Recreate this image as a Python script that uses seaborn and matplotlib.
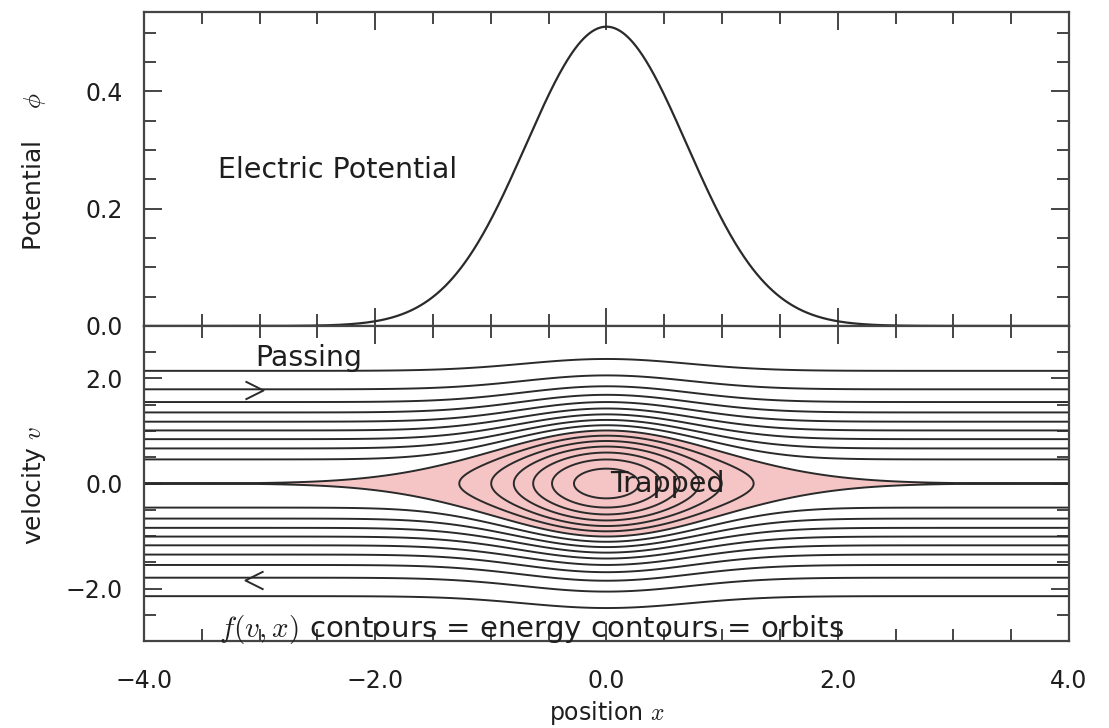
import numpy as np
import pandas as pd
import matplotlib
matplotlib.use("Agg")
import matplotlib.pyplot as plt
import seaborn as sns
from matplotlib.ticker import MultipleLocator, FuncFormatter

# ---------------- data ----------------
phi_peak = 0.51          # peak of the electric potential at x = 0
phi_sigma = 0.695        # gaussian width of the potential
f_levels_passing = [0.1, 0.2, 0.3, 0.4, 0.5, 0.6, 0.7, 0.8, 0.9]
f_level_separatrix = [1.0]
f_levels_trapped = [1.1, 1.2, 1.3, 1.4, 1.5, 1.6]
x_limits = [-4.0, 4.0]
phi_limits = [0.0, 0.535]
v_limits = [-3.0, 3.0]
x_major_ticks = [-4.0, -2.0, 0.0, 2.0, 4.0]
phi_major_ticks = [0.0, 0.2, 0.4]
v_major_ticks = [-2.0, 0.0, 2.0]
arrow_x = [-3.05, -3.05]
arrow_v = [1.79, -1.83]
arrow_dir = [">", "<"]

# ---------------- style ----------------
sns.set_theme(style="ticks")
plt.rcParams["font.family"] = ["DejaVu Sans"]
plt.rcParams["mathtext.fontset"] = "cm"

INK = "#2a2a2a"
SPINE = "#444444"
TXT = "#1e1e1e"
PINK = "#f5c4c4"

fig = plt.figure(figsize=(11.09, 7.28), dpi=100)
ax1 = fig.add_axes([0.1298, 0.5522, 0.8341, 0.4313])
ax2 = fig.add_axes([0.1298, 0.1195, 0.8341, 0.4327])

# potential curve
xs = np.linspace(x_limits[0], x_limits[1], 1601)
phi = phi_peak * np.exp(-xs**2 / (2 * phi_sigma**2))
df = pd.DataFrame({"x": xs, "phi": phi})
sns.lineplot(data=df, x="x", y="phi", ax=ax1, color=INK, lw=1.6, estimator=None)

# distribution function f(v,x) = exp(-(v^2/2 - phi(x)))
vs = np.linspace(v_limits[0], v_limits[1], 1201)
X, V = np.meshgrid(xs, vs)
PHI = phi_peak * np.exp(-X**2 / (2 * phi_sigma**2))
F = np.exp(-(V**2 / 2.0 - PHI))
ax2.contourf(X, V, F, levels=[f_level_separatrix[0], 100.0], colors=[PINK])
all_levels = f_levels_passing + f_level_separatrix + f_levels_trapped
ax2.contour(X, V, F, levels=all_levels, colors=INK, linewidths=1.4)

# direction arrows (open chevrons)
chev = {">": [(-1, 1), (1, 0), (-1, -1)], "<": [(1, 1), (-1, 0), (1, -1)]}
for ax_, av_, d_ in zip(arrow_x, arrow_v, arrow_dir):
    ax2.plot([ax_], [av_], marker=chev[d_], markersize=13, markerfacecolor="none",
             markeredgecolor=INK, markeredgewidth=1.4, linestyle="none")

# ---------------- axes formatting ----------------
fmt = FuncFormatter(lambda v, p: f"{v:.1f}".replace("-", "\u2212"))
for ax in (ax1, ax2):
    ax.set_xlim(*x_limits)
    ax.xaxis.set_major_locator(MultipleLocator(2.0))
    ax.xaxis.set_minor_locator(MultipleLocator(0.5))
    ax.xaxis.set_major_formatter(fmt)
    ax.yaxis.set_major_formatter(fmt)
    ax.tick_params(which="both", direction="in", top=True, right=True,
                   width=1.4, color=SPINE, labelcolor=TXT, labelsize=17)
    ax.tick_params(which="major", length=13)
    ax.tick_params(which="minor", length=8.5)
    ax.tick_params(axis="x", pad=20)
    ax.tick_params(axis="y", pad=15)
    for s in ax.spines.values():
        s.set_linewidth(1.6)
        s.set_color(SPINE)

ax1.set_ylim(*phi_limits)
ax1.set_yticks(phi_major_ticks)
ax1.yaxis.set_minor_locator(MultipleLocator(0.05))
ax1.tick_params(labelbottom=False)
ax1.set_xlabel("")
ax1.set_ylabel(r"Potential    $\phi$", fontsize=18, color=TXT)
ax1.yaxis.set_label_coords(-0.104, 0.49)

ax2.set_ylim(*v_limits)
ax2.set_yticks(v_major_ticks)
ax2.yaxis.set_minor_locator(MultipleLocator(0.5))
ax2.set_ylabel(r"velocity $v$", fontsize=18, color=TXT)
ax2.yaxis.set_label_coords(-0.104, 0.495)
ax2.set_xlabel(r"position $x$", fontsize=17, color=TXT)
ax2.xaxis.set_label_coords(0.5005, -0.185)

# annotations
ax1.text(-3.36, 0.2526, "Electric Potential", fontsize=20.5, color=TXT,
         ha="left", va="baseline")
ax2.text(-3.04, 2.23, "Passing", fontsize=20.5, color=TXT, ha="left", va="baseline")
ax2.text(0.03, -0.17, "Trapped", fontsize=20.5, color=TXT, ha="left", va="baseline")
ax2.text(-3.35, -2.92, r"$f(v,x)$ contours = energy contours = orbits", fontsize=21,
         color=TXT, ha="left", va="baseline")

fig.savefig("out.png", dpi=100)
